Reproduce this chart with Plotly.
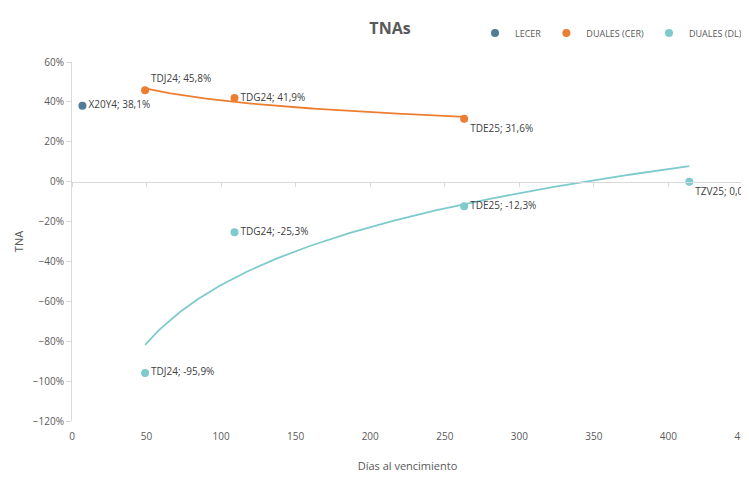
import numpy as np
import plotly.graph_objects as go

# --- data ---
lecer_names = ["X20Y4"]
lecer_days = [7]
lecer_tna = [38.1]

cer_names = ["TDJ24", "TDG24", "TDE25"]
cer_days = [49, 109, 263]
cer_tna = [45.8, 41.9, 31.6]

dl_names = ["TDJ24", "TDG24", "TDE25", "TZV25"]
dl_days = [49, 109, 263, 414]
dl_tna = [-95.9, -25.3, -12.3, 0.0]

x_ticks = [0, 50, 100, 150, 200, 250, 300, 350, 400, 450]

C_LECER = "#4F7D95"
C_CER = "#ED7D31"
C_DL = "#7ECACD"
GRAY = "#595959"
AXIS = "#D9D9D9"
FONT = "Open Sans"


def labels(names, vals):
    return [f"{n}; {v:.1f}%".replace(".", ",") for n, v in zip(names, vals)]


def log_trend(xs, ys):
    xs = np.asarray(xs, float)
    ys = np.asarray(ys, float)
    b, a = np.polyfit(np.log(xs), ys, 1)
    xx = np.linspace(xs.min(), xs.max(), 200)
    return xx, a + b * np.log(xx)


fig = go.Figure()

# trend lines
tx, ty = log_trend(cer_days, cer_tna)
fig.add_trace(go.Scatter(x=tx, y=ty / 100, mode="lines", line=dict(color=C_CER, width=1.8),
                         showlegend=False, hoverinfo="skip"))
tx, ty = log_trend(dl_days, dl_tna)
fig.add_trace(go.Scatter(x=tx, y=ty / 100, mode="lines", line=dict(color=C_DL, width=1.8),
                         showlegend=False, hoverinfo="skip"))

txt_font = dict(family=FONT, size=10, color="#404040")

fig.add_trace(go.Scatter(
    x=lecer_days, y=[v / 100 for v in lecer_tna], mode="markers+text", name="LECER",
    marker=dict(color=C_LECER, size=8), text=labels(lecer_names, lecer_tna),
    textposition="middle right", textfont=txt_font, cliponaxis=False))

fig.add_trace(go.Scatter(
    x=cer_days, y=[v / 100 for v in cer_tna], mode="markers+text", name="DUALES (CER)",
    marker=dict(color=C_CER, size=8), text=labels(cer_names, cer_tna),
    textposition=["top right", "middle right", "bottom right"], textfont=txt_font, cliponaxis=False))

fig.add_trace(go.Scatter(
    x=dl_days, y=[v / 100 for v in dl_tna], mode="markers+text", name="DUALES (DL)",
    marker=dict(color=C_DL, size=8), text=labels(dl_names, dl_tna),
    textposition=["middle right", "middle right", "middle right", "bottom right"],
    textfont=txt_font, cliponaxis=False))

# invisible trace to activate overlay axis at y=0
fig.add_trace(go.Scatter(x=[0], y=[0], xaxis="x2", mode="markers", marker=dict(opacity=0),
                         showlegend=False, hoverinfo="skip"))

W, H = 741, 466
yr = [-1.2, 0.6]
fig.update_layout(
    width=W, height=H,
    margin=dict(l=64, r=6, t=54, b=53, autoexpand=False),
    paper_bgcolor="white", plot_bgcolor="white",
    font=dict(family=FONT, size=10, color=GRAY),
    title=dict(text="<b>TNAs</b>", x=382 / W, xanchor="center", y=1 - 20 / H, yanchor="middle",
               font=dict(family=FONT, size=16, color=GRAY)),
    legend=dict(orientation="h", xref="container", yref="container", x=467 / W, xanchor="left",
                y=1 - 25 / H, yanchor="middle",
                font=dict(family=FONT, size=9, color=GRAY), itemwidth=30,
                bgcolor="rgba(0,0,0,0)"),
    xaxis=dict(range=[0, 450], tickvals=x_ticks, showgrid=False, zeroline=False, automargin=False,
               showline=False, ticks="", ticklabelstandoff=8, ticklabeloverflow="allow",
               tickfont=dict(family=FONT, size=10, color=GRAY),
               title=dict(text="Días al vencimiento", font=dict(family=FONT, size=11, color=GRAY),
                          standoff=20)),
    xaxis2=dict(range=[0, 450], tickvals=x_ticks, overlaying="x", anchor="free",
                position=(0 - yr[0]) / (yr[1] - yr[0]), side="bottom", automargin=False,
                showline=True, linecolor=AXIS, linewidth=1, ticks="outside", ticklen=4,
                tickcolor=AXIS, showticklabels=False, showgrid=False, zeroline=False),
    yaxis=dict(range=yr, dtick=0.2, tickformat=".0%", showgrid=False, zeroline=False, automargin=False,
               showline=True, linecolor=AXIS, linewidth=1, ticks="outside", ticklen=5,
               tickcolor=AXIS, tickfont=dict(family=FONT, size=10, color=GRAY),
               title=dict(text="TNA", font=dict(family=FONT, size=11, color=GRAY), standoff=7)),
)

fig.write_html("out.html")
